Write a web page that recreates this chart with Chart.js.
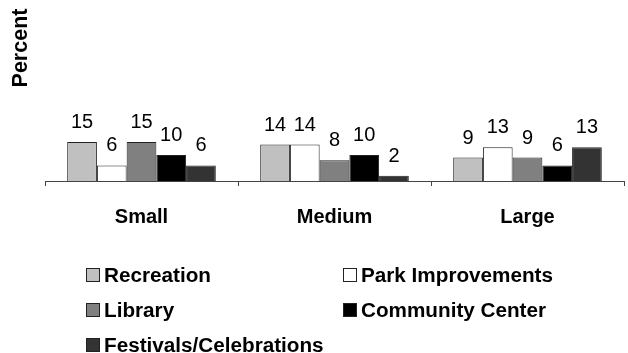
<!DOCTYPE html>
<html>
<head>
<meta charset="utf-8">
<script src="https://cdn.jsdelivr.net/npm/chart.js@4/dist/chart.umd.min.js"></script>
<style>
  html, body { margin: 0; padding: 0; background: #fff; }
  #wrap { width: 628px; height: 353px; position: relative; }
</style>
</head>
<body>
<div id="wrap"><canvas id="c" width="628" height="353"></canvas></div>
<script>
// Community sizes on the x axis
const categories = ['Small', 'Medium', 'Large'];

// Percent of respondents per priority, by community size
const recreation       = [15, 14, 9];
const parkImprovements = [6, 14, 13];
const library          = [15, 8, 9];
const communityCenter  = [10, 10, 6];
const festivals        = [6, 2, 13];

const seriesNames = ['Recreation', 'Park Improvements', 'Library', 'Community Center', 'Festivals/Celebrations'];
const seriesValues = [recreation, parkImprovements, library, communityCenter, festivals];
const seriesColors = ['#c0c0c0', '#ffffff', '#808080', '#000000', '#333333'];

const axisTitle = 'Percent';
const FONT = '"Liberation Sans", Arial, sans-serif';

// Value labels above each bar
const valueLabels = {
  id: 'valueLabels',
  afterDatasetsDraw(chart) {
    const ctx = chart.ctx;
    ctx.save();
    ctx.font = '20px ' + FONT;
    ctx.fillStyle = '#000';
    ctx.textAlign = 'center';
    ctx.textBaseline = 'alphabetic';
    chart.data.datasets.forEach((ds, i) => {
      const meta = chart.getDatasetMeta(i);
      meta.data.forEach((bar, j) => {
        ctx.fillText(String(ds.data[j]), bar.x, bar.y - 14);
      });
    });
    ctx.restore();
  }
};

// Rotated y-axis title and a two-column legend below the axis
const decorations = {
  id: 'decorations',
  afterDraw(chart) {
    const ctx = chart.ctx;
    ctx.save();
    ctx.fillStyle = '#000';
    ctx.font = 'bold 21.5px ' + FONT;
    ctx.translate(21, 48);
    ctx.rotate(-Math.PI / 2);
    ctx.textAlign = 'center';
    ctx.textBaseline = 'middle';
    ctx.fillText(axisTitle, 0, 0);
    ctx.restore();

    const colX = [86, 343];
    const rowY = [275, 310, 345];
    ctx.save();
    ctx.font = 'bold 20.7px ' + FONT;
    ctx.textAlign = 'left';
    ctx.textBaseline = 'middle';
    chart.data.datasets.forEach((ds, i) => {
      const x = colX[i % 2];
      const y = rowY[Math.floor(i / 2)];
      ctx.fillStyle = ds.backgroundColor;
      ctx.fillRect(x, y - 7, 14, 14);
      ctx.strokeStyle = '#222';
      ctx.lineWidth = 1;
      ctx.strokeRect(x + 0.5, y - 6.5, 13, 13);
      ctx.fillStyle = '#000';
      ctx.fillText(ds.label, x + 18, y + 1);
    });
    ctx.restore();
  }
};

new Chart(document.getElementById('c'), {
  type: 'bar',
  data: {
    labels: categories,
    datasets: seriesNames.map((name, i) => ({
      label: name,
      data: seriesValues[i],
      backgroundColor: seriesColors[i],
      borderColor: '#222',
      borderWidth: 1,
      categoryPercentage: 0.77,
      barPercentage: 1.0
    }))
  },
  options: {
    responsive: false,
    devicePixelRatio: 1,
    animation: false,
    layout: { padding: { top: 51, left: 45, right: 4, bottom: 0 } },
    plugins: { legend: { display: false }, tooltip: { enabled: false }, title: { display: false } },
    scales: {
      x: {
        afterFit(scale) { scale.height = 172; },
        border: { display: true, color: '#444', width: 1 },
        grid: { display: true, drawOnChartArea: false, drawTicks: true, tickLength: 5, color: '#444', offset: true },
        ticks: { color: '#000', font: { family: FONT, size: 20, weight: 'bold' }, padding: 19 }
      },
      y: {
        display: false,
        min: 0,
        max: 50
      }
    }
  },
  plugins: [valueLabels, decorations]
});
</script>
</body>
</html>
